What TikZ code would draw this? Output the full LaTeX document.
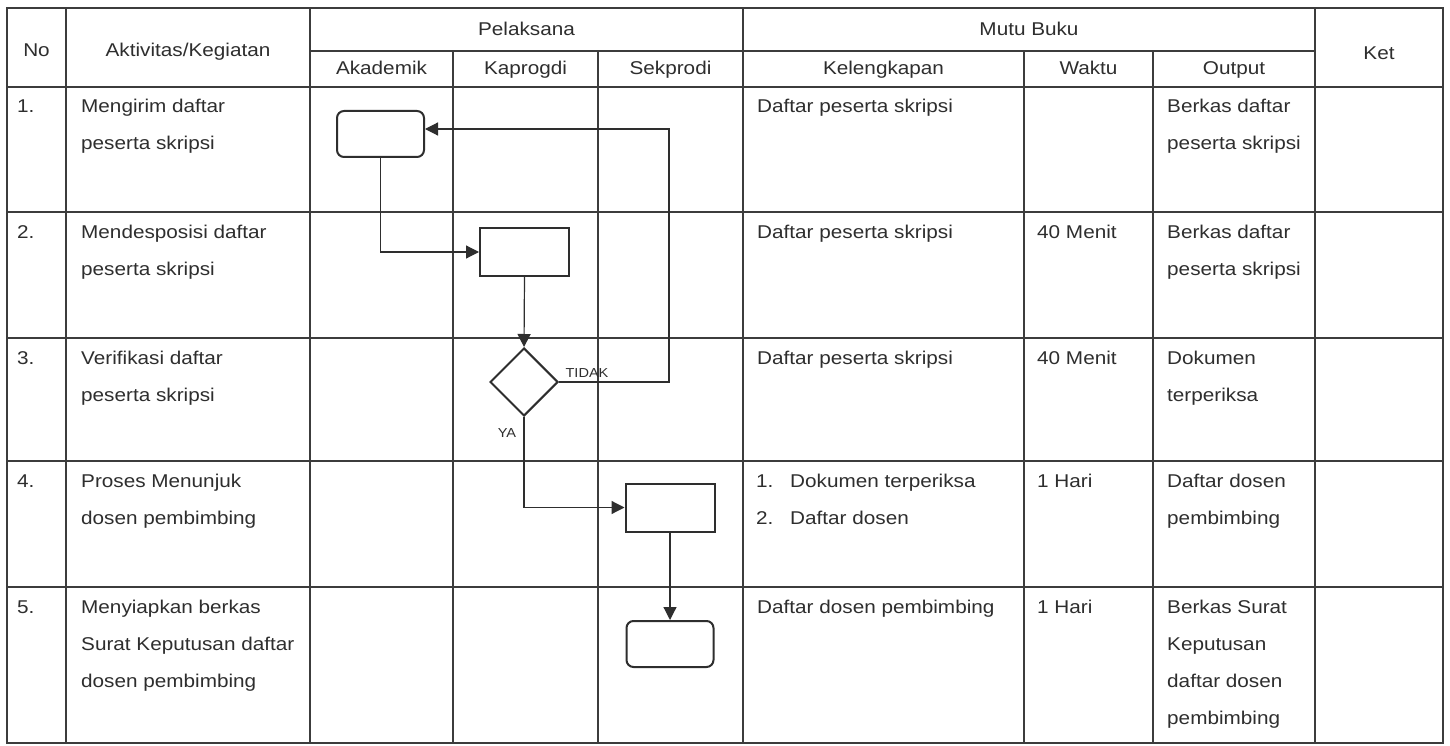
\documentclass[tikz,border=0pt]{standalone}
\usepackage{fontspec}
\setmainfont{Liberation Sans}[FakeStretch=1.12]
\usetikzlibrary{shapes.geometric,arrows.meta}
\definecolor{ink}{HTML}{2E2E2E}
\definecolor{rule}{HTML}{3C3C3C}
\newcommand{\cellfont}{\fontsize{18.5}{37}\selectfont}
\newcommand{\smallfont}{\fontsize{13}{15}\selectfont}
\tikzset{
  gridline/.style={line width=1.2pt, draw=rule},
  txt/.style={inner sep=0, anchor=base west, align=left, font=\cellfont, text=ink},
  hdr/.style={inner sep=0, anchor=base, font=\cellfont, text=ink},
  lbl/.style={inner sep=0, anchor=base, font=\smallfont, text=ink},
  term/.style={draw=ink, rounded corners=7pt, line width=2pt, minimum width=87pt, minimum height=46pt, inner sep=0},
  proc/.style={draw=ink, line width=2pt, minimum width=89pt, minimum height=48pt, inner sep=0},
  dec/.style={draw=ink, diamond, line width=2pt, minimum width=68pt, minimum height=68pt, inner sep=0},
  flow/.style={line width=1.2pt, draw=ink, -{Triangle[length=13pt,width=13pt]}}
}
\begin{document}
\begin{tikzpicture}[x=1pt,y=-1pt]
\useasboundingbox (0,0) rectangle (1450,746);
\fill[white] (0,0) rectangle (1450,746);
% table grid
\draw[gridline] (7,8) rectangle (1443,743);
\foreach \x in {66,310,743,1315} \draw[gridline] (\x,8) -- (\x,743);
\foreach \x in {453,598,1024,1153} \draw[gridline] (\x,51) -- (\x,743);
\draw[gridline] (310,51) -- (1315,51);
\foreach \y in {87,212,338,461,587} \draw[gridline] (7,\y) -- (1443,\y);
% headers
\node[hdr] (hNo) at (36.5,56.5) {No};
\node[hdr] (hAkt) at (188,56.5) {Aktivitas/Kegiatan};
\node[hdr] (hPel) at (526.5,35.5) {Pelaksana};
\node[hdr] (hAkad) at (381.5,75) {Akademik};
\node[hdr] (hKap) at (525.5,75) {Kaprogdi};
\node[hdr] (hSek) at (670.5,75) {Sekprodi};
\node[hdr] (hMutu) at (1029,35.5) {Mutu Buku};
\node[hdr] (hKel) at (883.5,75) {Kelengkapan};
\node[hdr] (hWak) at (1088.5,75) {Waktu};
\node[hdr] (hOut) at (1234,75) {Output};
\node[hdr] (hKet) at (1379,59.5) {Ket};
% row 1 (base anchor = last line's baseline; line pitch 37)
\node[txt] (n1) at (17,113) {1.};
\node[txt] (a1) at (81,150) {Mengirim daftar\\peserta skripsi};
\node[txt] (k1) at (757,113) {Daftar peserta skripsi};
\node[txt] (o1) at (1167,150) {Berkas daftar\\peserta skripsi};
% row 2
\node[txt] (n2) at (17,238) {2.};
\node[txt] (a2) at (81,275) {Mendesposisi daftar\\peserta skripsi};
\node[txt] (k2) at (757,238) {Daftar peserta skripsi};
\node[txt] (w2) at (1037,238) {40 Menit};
\node[txt] (o2) at (1167,275) {Berkas daftar\\peserta skripsi};
% row 3
\node[txt] (n3) at (17,364) {3.};
\node[txt] (a3) at (81,401) {Verifikasi daftar\\peserta skripsi};
\node[txt] (k3) at (757,364) {Daftar peserta skripsi};
\node[txt] (w3) at (1037,364) {40 Menit};
\node[txt] (o3) at (1167,401) {Dokumen\\terperiksa};
% row 4
\node[txt] (n4) at (17,487) {4.};
\node[txt] (a4) at (81,524) {Proses Menunjuk\\dosen pembimbing};
\node[txt] (k4n) at (756,524) {1.\\2.};
\node[txt] (k4) at (790,524) {Dokumen terperiksa\\Daftar dosen};
\node[txt] (w4) at (1037,487) {1 Hari};
\node[txt] (o4) at (1167,524) {Daftar dosen\\pembimbing};
% row 5
\node[txt] (n5) at (17,613) {5.};
\node[txt] (a5) at (81,687) {Menyiapkan berkas\\Surat Keputusan daftar\\dosen pembimbing};
\node[txt] (k5) at (757,613) {Daftar dosen pembimbing};
\node[txt] (w5) at (1037,613) {1 Hari};
\node[txt] (o5) at (1167,724) {Berkas Surat\\Keputusan\\daftar dosen\\pembimbing};
% flowchart
\node[term] (A) at (380.5,134) {};
\node[proc] (B) at (524.5,252) {};
\node[dec] (D) at (524,382) {};
\node[proc] (C) at (670,507.5) {};
\node[term] (E) at (670,644) {};
\coordinate (lp) at (669,129);
\draw[flow] (A.south) |- (B.west);
\draw[flow] (B.south) -- (D.north);
\draw[flow] (D.east) -| (lp) -- (A.east |- lp);
\draw[flow] (D.south) |- (C.west);
\draw[flow] (C.south) -- (E.north);
\node[lbl] (tidak) at (587,377) {TIDAK};
\node[lbl] (ya) at (507,437) {YA};
\end{tikzpicture}
\end{document}
